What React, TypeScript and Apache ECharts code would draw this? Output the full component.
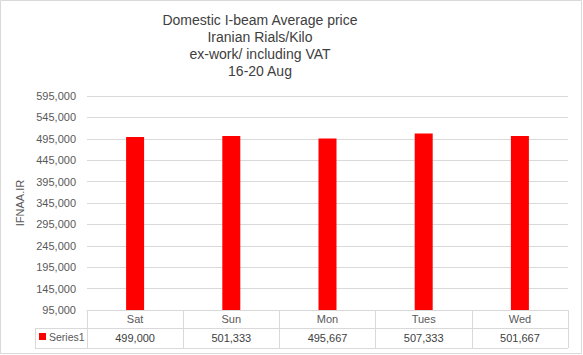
import React, { useEffect, useRef } from "react";
import * as echarts from "echarts";

const titleLines = ["Domestic I-beam Average price", "Iranian Rials/Kilo", "ex-work/ including VAT", "16-20 Aug"];
const categories = ["Sat", "Sun", "Mon", "Tues", "Wed"];
const prices = [499000, 501333, 495667, 507333, 501667];
const seriesName = "Series1";
const yAxisName = "IFNAA.IR";
const axisMin = 95000;
const axisMax = 595000;
const axisStep = 50000;

const fmt = (v: number) => Math.round(v).toLocaleString("en-US");

export default function App() {
  const ref = useRef<HTMLDivElement>(null);
  useEffect(() => {
    if (!ref.current) return;
    const chart = echarts.init(ref.current, null, { renderer: "svg" });
    const gridLeft = 87;
    const gridRight = 568;
    const gridBottom = 310;
    const lineColor = "#d9d9d9";
    const font = "Liberation Sans, Arial, sans-serif";
    chart.setOption({
      animation: false,
      backgroundColor: "#ffffff",
      title: {
        text: titleLines.join("\n"),
        left: 255,
        top: 6,
        textAlign: "center",
        textStyle: { fontFamily: font, fontSize: 14, fontWeight: "normal", color: "#404040", lineHeight: 17 },
      },
      legend: {
        data: [seriesName],
        left: 34,
        top: 326,
        icon: "rect",
        itemWidth: 7,
        itemHeight: 7,
        itemGap: 4,
        textStyle: { fontFamily: font, fontSize: 10.5, color: "#595959", padding: [0, 0, 0, -2] },
      },
      grid: { left: gridLeft, right: 583 - gridRight, top: 96, bottom: 355 - gridBottom, containLabel: false },
      xAxis: {
        type: "category",
        data: categories,
        axisLine: { show: true, lineStyle: { color: lineColor, width: 1 } },
        axisTick: { show: true, length: 38, lineStyle: { color: lineColor } },
        axisLabel: {
          margin: 0,
          fontFamily: font,
          formatter: (value: string, index: number) => `{c|${value}}\n{v|${fmt(prices[index])}}`,
          rich: {
            c: { fontFamily: font, fontSize: 11, color: "#595959", lineHeight: 18 },
            v: { fontFamily: font, fontSize: 11, color: "#404040", lineHeight: 20 },
          },
        },
      },
      yAxis: {
        type: "value",
        min: 0,
        max: axisMax - axisMin,
        interval: axisStep,
        name: yAxisName,
        nameLocation: "middle",
        nameRotate: 90,
        nameGap: 49,
        nameTextStyle: { fontFamily: font, fontSize: 11, color: "#595959" },
        axisLine: { show: false },
        axisTick: { show: false },
        axisLabel: {
          margin: 11,
          fontFamily: font,
          fontSize: 11,
          color: "#595959",
          formatter: (v: number) => fmt(v + axisMin),
        },
        splitLine: { lineStyle: { color: lineColor, width: 1 } },
      },
      series: [
        {
          name: seriesName,
          type: "bar",
          data: prices.map((p) => p - axisMin),
          barWidth: 18,
          itemStyle: { color: "#ff0000" },
        },
      ],
      graphic: [
        { type: "rect", shape: { x: 0.5, y: 0.5, width: 581, height: 353 }, style: { fill: "none", stroke: lineColor, lineWidth: 1 }, silent: true },
        { type: "line", shape: { x1: 35, y1: 328.5, x2: gridRight, y2: 328.5 }, style: { stroke: lineColor, lineWidth: 1 }, silent: true },
        { type: "line", shape: { x1: 35, y1: 348.5, x2: gridRight, y2: 348.5 }, style: { stroke: lineColor, lineWidth: 1 }, silent: true },
        { type: "line", shape: { x1: 35.5, y1: 328.5, x2: 35.5, y2: 348.5 }, style: { stroke: lineColor, lineWidth: 1 }, silent: true },
      ],
    });
    return () => chart.dispose();
  }, []);
  return <div ref={ref} style={{ position: "fixed", left: 0, top: 0, width: 583, height: 355 }} />;
}
